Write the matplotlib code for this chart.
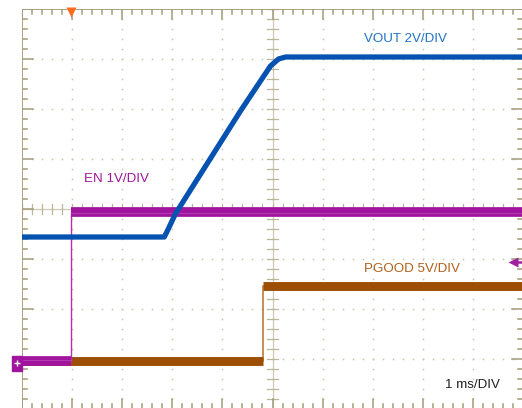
"""Scope capture: EN / VOUT / PGOOD start-up sequence, 1 ms/div."""

import matplotlib

matplotlib.use("Agg")
import matplotlib.pyplot as plt
import numpy as np
from matplotlib.patches import Rectangle

plt.rcParams["font.family"] = ["Liberation Sans", "DejaVu Sans"]

# trace values, in screen divisions (x: ms from left edge, y: div from centre)
vout_t = [0.0, 2.84, 2.92, 3.06, 4.36, 4.96, 5.12, 5.26, 10.0]
vout_v = [-0.56, -0.56, -0.40, -0.10, 1.96, 2.86, 3.00, 3.04, 3.04]
en_t = [0.0, 0.98, 0.98, 10.0]
en_v = [-3.04, -3.04, -0.06, -0.06]
pg_t = [0.0, 4.82, 4.82, 10.0]
pg_v = [-3.04, -3.04, -1.54, -1.54]

labels = ["VOUT 2V/DIV", "EN 1V/DIV", "PGOOD 5V/DIV", "1 ms/DIV"]
label_pos = [(6.82, 3.40), (1.24, 0.60), (6.82, -1.20), (8.44, -3.52)]

trig_t = 0.98      # trigger position marker (top)
trig_level = -1.06  # trigger level arrow (right)

BLUE = "#0552B0"
MAGENTA = "#A0149E"
BROWN = "#9C4E04"
FRAME = "#A39B7B"
DOTS = "#CBC4A8"
label_colors = ["#1D74C6", "#A0189C", "#B0601C", "#202020"]

W, H = 522, 408
fig = plt.figure(figsize=(W / 100, H / 100), dpi=100)
ax = fig.add_axes([22 / W, (H - 409) / H, 501 / W, 400 / H])
ax.set_xlim(0, 10)
ax.set_ylim(-4, 4)
ax.set_axis_off()

px = 1 / 50  # one pixel in division units

# dotted graticule
fine_x = np.arange(0, 10.01, 0.2)
fine_y = np.arange(-4, 4.01, 0.2)
for gx in range(1, 10):
    ax.plot(np.full_like(fine_y, gx), fine_y, ls="none", marker="s", ms=1.1,
            mec="none", mfc=DOTS, zorder=1)
for gy in range(-3, 4):
    ax.plot(fine_x, np.full_like(fine_x, gy), ls="none", marker="s", ms=1.1,
            mec="none", mfc=DOTS, zorder=1)

# centre crosshair with minor ticks
ax.axvline(5, color="#CFC8B0", lw=0.9, zorder=1)
ax.axhline(0, color="#CFC8B0", lw=0.9, zorder=1)
for y in fine_y:
    ax.plot([5 - 5 * px, 5 + 5 * px], [y, y], color="#BDB59A", lw=0.9, zorder=1)
for x in fine_x:
    ax.plot([x, x], [-5 * px, 5 * px], color="#BDB59A", lw=0.9, zorder=1)

# outer frame with inward ticks
ax.plot([0, 0], [-4, 4], color=FRAME, lw=1.3, zorder=2)
ax.plot([0, 10], [4, 4], color=FRAME, lw=1.3, zorder=2)
for y in fine_y:
    major = abs(y - round(y)) < 1e-6
    ln = (11 if major else 5) * px
    ax.plot([0, ln], [y, y], color=FRAME, lw=1.1, zorder=2)
    ax.plot([10 - ln, 10], [y, y], color=FRAME, lw=1.1, zorder=2)
for x in fine_x:
    major = abs(x - round(x)) < 1e-6
    ln = (10 if major else 5) * px
    ax.plot([x, x], [4 - ln, 4], color=FRAME, lw=1.1, zorder=2)
    ax.plot([x, x], [-4, -4 + ln], color=FRAME, lw=1.1, zorder=2)

# PGOOD: thin edge, thick levels
ax.plot(pg_t, pg_v, color="#C07A3A", lw=1.2, zorder=3)
ax.plot(pg_t[:2], pg_v[:2], color=BROWN, lw=6.4, solid_capstyle="butt", zorder=3)
ax.plot(pg_t[2:], pg_v[2:], color=BROWN, lw=6.4, solid_capstyle="butt", zorder=3)

# EN
ax.plot(en_t, en_v, color="#B530B5", lw=1.0, zorder=4)
ax.plot(en_t[:2], en_v[:2], color=MAGENTA, lw=7.0, solid_capstyle="butt", zorder=4)
ax.plot(en_t[2:], en_v[2:], color=MAGENTA, lw=7.0, solid_capstyle="butt", zorder=4)
ax.plot(en_t[:2], np.array(en_v[:2]) + 1 * px, color="#B850B8", lw=0.5, zorder=4)
ax.plot(en_t[2:], np.array(en_v[2:]) - 1 * px, color="#B850B8", lw=0.5, zorder=4)

# VOUT
ax.plot(vout_t, vout_v, color=BLUE, lw=3.8, solid_joinstyle="round", zorder=5)

for text, (x, y), c in zip(labels, label_pos, label_colors):
    ax.text(x, y, text, color=c, fontsize=9.6, ha="left", va="center", zorder=6)

# markers: trigger position, trigger level, channel ground
ax.plot([trig_t], [4 - 3 * px], marker="v", ms=7, color="#FF6A1E",
        mec="none", clip_on=False, zorder=7)
ax.plot([10 - 9 * px, 10], [trig_level, trig_level], color="#A020A0", lw=1.8,
        clip_on=False, zorder=7)
ax.plot([10 - 10 * px], [trig_level], marker="<", ms=6.5, color="#A020A0",
        mec="none", clip_on=False, zorder=7)
ax.add_patch(Rectangle((-10 * px, en_v[0] - 10 * px), 10 * px, 15 * px,
                       color=MAGENTA, clip_on=False, zorder=7))
ax.plot([-5 * px], [en_v[0] - 2 * px], marker="+", ms=4, mew=1.0, color="white",
        clip_on=False, zorder=8)

fig.savefig("out.png", dpi=100)
